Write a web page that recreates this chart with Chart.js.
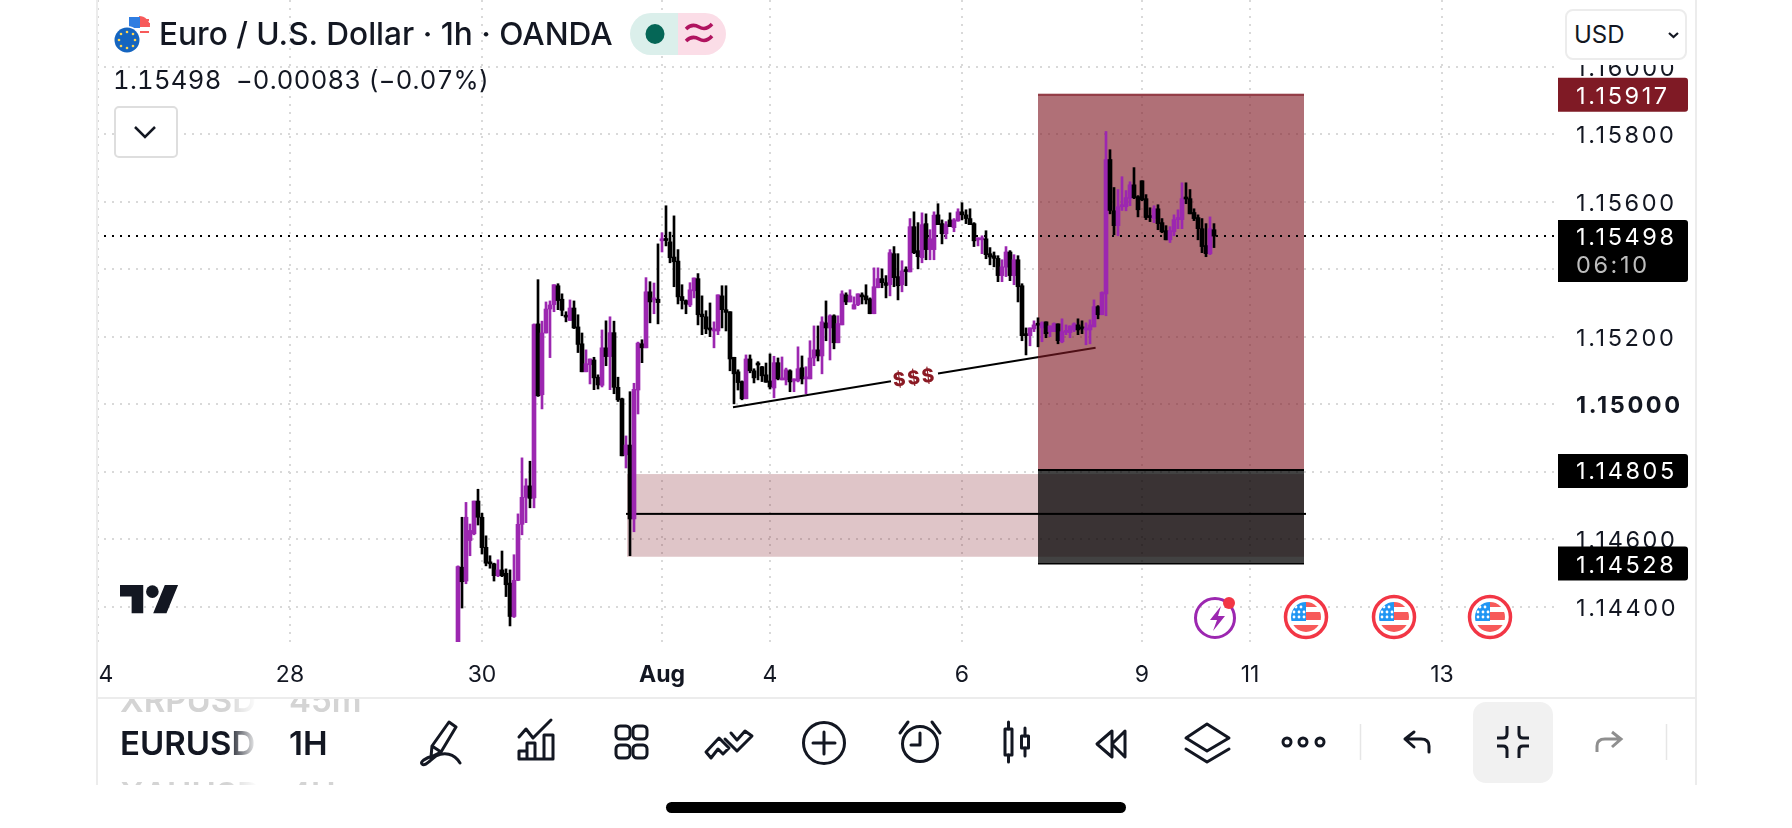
<!DOCTYPE html>
<html>
<head>
<meta charset="utf-8">
<title>EURUSD 1h</title>
<script src="https://cdn.jsdelivr.net/npm/chart.js@4/dist/chart.umd.min.js"></script>
<style>
	html, body { margin: 0; padding: 0; background: #fff; width: 1792px; height: 828px; overflow: hidden; }
	body { font-family: Inter, "Noto Sans", sans-serif; color: #131722; }
	canvas { position: absolute; left: 0; top: 0; }
	svg.overlay { position: absolute; left: 0; top: 0; }
	.txt { position: absolute; white-space: nowrap; }
	#title { left: 159px; top: 15px; font-size: 31.6px; line-height: 38px; font-weight: 500; }
	#quote { left: 113px; top: 65px; font-size: 25.6px; line-height: 30px; font-weight: 400; white-space: pre; font-variant-numeric: tabular-nums; letter-spacing: 0.3px; }
	#dropdown { position: absolute; left: 114px; top: 106px; width: 60px; height: 48px; border: 2px solid #dedede; border-radius: 5px; background: #fff; }
	#axisCover { position: absolute; left: 1558px; top: 0; width: 136px; height: 65px; background: #fff; }
	#currency { position: absolute; left: 1565px; top: 9px; width: 118px; height: 47px; border: 2px solid #ececec; border-radius: 8px; background: #fff; }
	#currency span { position: absolute; left: 7px; top: 9px; font-size: 24px; line-height: 30px; }
	#rows { position: absolute; left: 98px; top: 699px; width: 300px; height: 86px; overflow: hidden; }
	#rows div { position: absolute; white-space: nowrap; font-weight: 600; font-size: 33px; line-height: 38px; }
	.sym { left: 22px; width: 138px; overflow: hidden; -webkit-mask-image: linear-gradient(to right, #000 78%, transparent 100%); mask-image: linear-gradient(to right, #000 78%, transparent 100%); }
	.res { left: 191px; }
	.dim { color: #d4d4d4; }
</style>
</head>
<body>
<canvas id="chart" width="1792" height="828"></canvas>

<div id="axisCover"></div>
<div id="title" class="txt">Euro / U.S. Dollar · 1h · OANDA</div>
<div id="quote" class="txt">1.15498  −0.00083 (−0.07%)</div>
<div id="dropdown"></div>
<div id="currency"><span>USD</span></div>

<div id="rows">
	<div class="sym dim" style="top:-18px">XRPUSD</div><div class="res dim" style="top:-18px">45m</div>
	<div class="sym" style="top:25px">EURUSD</div><div class="res" style="top:25px">1H</div>
	<div class="sym dim" style="top:76px">XAUUSD</div><div class="res dim" style="top:76px">4H</div>
</div>

<svg class="overlay" width="1792" height="828" viewBox="0 0 1792 828">
	<defs>
		<clipPath id="flagClip"><circle cx="0" cy="0" r="15"/></clipPath>
		<g id="usEvent">
			<circle cx="0" cy="0" r="20.5" fill="#fff" stroke="#F23645" stroke-width="3.5"/>
			<g clip-path="url(#flagClip)">
				<rect x="0" y="-15" width="16" height="5" fill="#f75a5a"/>
				<rect x="0" y="-5" width="16" height="8" fill="#f75a5a"/>
				<rect x="-16" y="8" width="32" height="8" fill="#f75a5a"/>
				<rect x="-16" y="-16" width="16" height="20" fill="#2196f3"/>
				<g fill="#fff">
					<circle cx="-10" cy="-10" r="1.4"/><circle cx="-5" cy="-10" r="1.4"/>
					<circle cx="-12" cy="-5" r="1.4"/><circle cx="-7" cy="-5" r="1.4"/><circle cx="-2" cy="-5" r="1.4"/>
					<circle cx="-12" cy="0" r="1.4"/><circle cx="-7" cy="0" r="1.4"/><circle cx="-2" cy="0" r="1.4"/>
				</g>
			</g>
		</g>
	</defs>

	<!-- pane borders -->
	<path d="M97 0V785M1696 0V785" stroke="#ececec" stroke-width="2" fill="none"/>
	<path d="M97 698H1696" stroke="#ececec" stroke-width="2" fill="none"/>

	<!-- symbol logos -->
	<circle cx="139" cy="27" r="11" fill="#fff"/>
	<path d="M139 16a11 11 0 0 1 11 11h-11z" fill="#f75a5a"/>
	<rect x="129" y="17" width="11" height="11" fill="#2f7de1"/>
	<path d="M141 20h8M141 24h9M140 32h9" stroke="#f75a5a" stroke-width="2"/>
	<circle cx="127" cy="40" r="14" fill="#fff"/>
	<circle cx="127" cy="40" r="12.5" fill="#1565C0"/>
	<g fill="#ffd54f">
		<circle cx="127" cy="32" r="1.3"/><circle cx="133" cy="34" r="1.3"/><circle cx="135" cy="40" r="1.3"/><circle cx="133" cy="46" r="1.3"/>
		<circle cx="127" cy="48" r="1.3"/><circle cx="121" cy="46" r="1.3"/><circle cx="119" cy="40" r="1.3"/><circle cx="121" cy="34" r="1.3"/>
	</g>

	<!-- status pill -->
	<path d="M678 13H651a21 21 0 0 0 0 42H678z" fill="#dbefeb"/>
	<path d="M678 13H705a21 21 0 0 1 0 42H678z" fill="#fbdde7"/>
	<ellipse cx="655" cy="34" rx="9.5" ry="10" fill="#056656"/>
	<path d="M686 29q6-6 13-2t13-3M686 41q6-6 13-2t13-3" stroke="#b0135f" stroke-width="3.5" fill="none"/>

	<!-- chevrons -->
	<path d="M135 127l10 10 10-10" stroke="#131722" stroke-width="2.5" fill="none"/>
	<path d="M1669 33l4.500 4 4.500-4" stroke="#131722" stroke-width="2.2" fill="none"/>

	<!-- tradingview mark -->
	<g transform="translate(120,585) scale(1.66)" fill="#131722">
		<path d="M14 17H7V7H0V0h14v17zM28 17h-8L27 0h8l-7 17z"/>
		<circle cx="19.500" cy="4" r="3.800"/>
	</g>

	<!-- events row -->
	<circle cx="1215" cy="618" r="19.500" fill="none" stroke="#9C27B0" stroke-width="3"/>
	<path d="M1221 606l-11 14h7l-4 11 12-15h-7z" fill="#9C27B0"/>
	<circle cx="1229" cy="603" r="6" fill="#F23645"/>
	<use href="#usEvent" x="1306" y="617"/>
	<use href="#usEvent" x="1394" y="617"/>
	<use href="#usEvent" x="1490" y="617"/>

	<!-- bottom toolbar -->
	<g fill="none" stroke="#131722" stroke-width="3" stroke-linejoin="round" stroke-linecap="round">
		<path d="M449 722l7 5-15 25-10 5 1-11zM432 746l9 6M433 756c-8 2-13 6-11 8c3 3 8-4 14-8c8-4 18-3 24 7"/>
		<path d="M519 737l7-8 7 9 18-18M519 759h34v-24h-9v24M535 759v-16h-8v16M527 759v-8h-8v8"/>
		<rect x="616" y="726" width="14" height="13" rx="4"/><rect x="633" y="726" width="14" height="13" rx="4"/>
		<rect x="616" y="745" width="14" height="13" rx="4"/><rect x="633" y="745" width="14" height="13" rx="4"/>
		<path d="M706 752l13-14 10 10-6 6-5-5-7 9zM731 733l6 7 8-9 7 5-15 15-12-12"/>
		<circle cx="824" cy="743" r="20.500"/><path d="M824 732v22M813 743h22"/>
		<circle cx="920" cy="744" r="17.500"/><path d="M920 733v12h-9M900 733l8-11M940 733l-8-11"/>
		<rect x="1005" y="729" width="7" height="26"/><path d="M1008.500 722v7M1008.500 755v7M1025 728v8M1025 748v8"/><rect x="1021.500" y="736" width="7" height="12"/>
		<path d="M1112 731l-15 13 15 13zM1125 731l-13 13 13 13z"/>
		<path d="M1207 724l22 14-22 13-21-13zM1186 749l21 13 22-13"/>
		<circle cx="1287" cy="742" r="4"/><circle cx="1303" cy="742" r="4"/><circle cx="1320" cy="742" r="4"/>
		<path d="M1429 752v-6q0-7-8-7h-16M1414 732l-9 7 9 8"/>
	</g>
	<path d="M1360.500 724v36M1666.500 724v36" stroke="#e6e6e6" stroke-width="1.500"/>
	<rect x="1473" y="702" width="80" height="81" rx="13" fill="#f1f1f1"/>
	<g fill="none" stroke="#131722" stroke-width="3">
		<path d="M1507 726v8q0 4-4 4h-6M1519 726v8q0 4 4 4h6M1497 746h6q4 0 4 4v8M1529 746h-6q-4 0-4 4v8"/>
	</g>
	<path d="M1597 752v-6q0-7 8-7h16M1612 732l9 7-9 8" fill="none" stroke="#8f8f8f" stroke-width="3"/>

	<!-- home indicator -->
	<rect x="666" y="802" width="460" height="11" rx="5.500" fill="#000"/>
</svg>

<script>
//one hourly candle per list entry, oldest first
var opens = [
	1.14262,1.14517,1.14476,1.14596,1.14616,1.14713,1.14665,1.14576,1.14531,1.14527,
	1.14492,1.14509,1.14499,1.14470,1.14371,1.14478,1.14644,1.14724,1.14758,1.14722,
	1.15238,1.15028,1.15211,1.15282,1.15295,1.15351,1.15311,1.15262,1.15248,1.15285,
	1.15229,1.15179,1.15096,1.15117,1.15131,1.15080,1.15056,1.15167,1.15141,1.15212,
	1.15050,1.15016,1.14850,1.14879,1.14660,1.15042,1.15179,1.15167,1.15333,1.15309,
	1.15311,1.15484,1.15489,1.15481,1.15436,1.15424,1.15319,1.15307,1.15294,1.15336,
	1.15372,1.15267,1.15259,1.15226,1.15217,1.15217,1.15321,1.15280,1.15274,1.15139,
	1.15096,1.15067,1.15016,1.15134,1.15099,1.15120,1.15111,1.15087,1.15069,1.15048,
	1.15123,1.15072,1.15072,1.15099,1.15069,1.15069,1.15108,1.15075,1.15075,1.15137,
	1.15161,1.15143,1.15241,1.15226,1.15262,1.15182,1.15235,1.15324,1.15303,1.15282,
	1.15295,1.15324,1.15321,1.15312,1.15268,1.15345,1.15372,1.15360,1.15354,1.15446,
	1.15378,1.15354,1.15398,1.15392,1.15526,1.15455,1.15434,1.15535,1.15458,1.15458,
	1.15561,1.15535,1.15505,1.15546,1.15523,1.15543,1.15570,1.15561,1.15550,1.15535,
	1.15487,1.15487,1.15490,1.15446,1.15440,1.15432,1.15381,1.15406,1.15451,1.15381,
	1.15428,1.15351,1.15209,1.15203,1.15223,1.15238,1.15226,1.15244,1.15215,1.15215,
	1.15238,1.15185,1.15213,1.15212,1.15220,1.15235,1.15229,1.15220,1.15220,1.15229,
	1.15289,1.15265,1.15327,1.15725,1.15573,1.15529,1.15585,1.15585,1.15610,1.15650,
	1.15615,1.15662,1.15609,1.15558,1.15550,1.15579,1.15538,1.15514,1.15487,1.15511,
	1.15547,1.15547,1.15612,1.15609,1.15568,1.15553,1.15520,1.15470,1.15446,1.15517
];
var highs = [
	1.14521,1.14665,1.14709,1.14645,1.14713,1.14748,1.14677,1.14610,1.14551,1.14529,
	1.14539,1.14565,1.14512,1.14509,1.14554,1.14675,1.14841,1.14779,1.14831,1.15238,
	1.15369,1.15246,1.15303,1.15306,1.15354,1.15357,1.15327,1.15274,1.15309,1.15306,
	1.15265,1.15211,1.15161,1.15134,1.15139,1.15087,1.15220,1.15247,1.15259,1.15246,
	1.15080,1.15018,1.14906,1.15037,1.15062,1.15184,1.15191,1.15375,1.15363,1.15359,
	1.15475,1.15508,1.15588,1.15510,1.15558,1.15458,1.15354,1.15309,1.15360,1.15374,
	1.15387,1.15321,1.15277,1.15300,1.15244,1.15324,1.15351,1.15351,1.15274,1.15139,
	1.15102,1.15069,1.15146,1.15146,1.15105,1.15126,1.15112,1.15122,1.15149,1.15142,
	1.15137,1.15140,1.15107,1.15102,1.15075,1.15170,1.15143,1.15111,1.15188,1.15232,
	1.15232,1.15259,1.15306,1.15265,1.15265,1.15262,1.15336,1.15330,1.15339,1.15318,
	1.15327,1.15330,1.15354,1.15315,1.15404,1.15404,1.15401,1.15381,1.15458,1.15467,
	1.15446,1.15425,1.15407,1.15550,1.15570,1.15538,1.15567,1.15564,1.15517,1.15570,
	1.15594,1.15546,1.15541,1.15567,1.15550,1.15579,1.15597,1.15576,1.15579,1.15538,
	1.15493,1.15499,1.15514,1.15464,1.15451,1.15440,1.15428,1.15467,1.15455,1.15443,
	1.15440,1.15357,1.15226,1.15226,1.15247,1.15256,1.15244,1.15244,1.15232,1.15241,
	1.15238,1.15253,1.15235,1.15232,1.15241,1.15253,1.15247,1.15241,1.15250,1.15309,
	1.15292,1.15333,1.15808,1.15754,1.15642,1.15636,1.15674,1.15633,1.15659,1.15701,
	1.15618,1.15662,1.15621,1.15582,1.15588,1.15591,1.15550,1.15529,1.15526,1.15561,
	1.15576,1.15656,1.15656,1.15636,1.15579,1.15561,1.15550,1.15535,1.15555,1.15535
];
var lows = [
	1.14232,1.14396,1.14468,1.14551,1.14613,1.14642,1.14556,1.14521,1.14514,1.14476,
	1.14489,1.14489,1.14430,1.14343,1.14368,1.14477,1.14613,1.14649,1.14693,1.14693,
	1.15023,1.14986,1.15211,1.15138,1.15274,1.15280,1.15262,1.15244,1.15248,1.15224,
	1.15153,1.15096,1.15096,1.15060,1.15043,1.15045,1.15051,1.15114,1.15043,1.15031,
	1.15008,1.14847,1.14811,1.14551,1.14622,1.14971,1.15123,1.15167,1.15241,1.15268,
	1.15238,1.15451,1.15469,1.15419,1.15348,1.15297,1.15282,1.15268,1.15289,1.15315,
	1.15235,1.15206,1.15209,1.15200,1.15167,1.15206,1.15226,1.15217,1.15099,1.15001,
	1.15042,1.15013,1.15016,1.15093,1.15063,1.15072,1.15067,1.15065,1.15045,1.15019,
	1.15072,1.15072,1.15057,1.15037,1.15037,1.15066,1.15060,1.15031,1.15075,1.15114,
	1.15128,1.15090,1.15188,1.15131,1.15164,1.15182,1.15235,1.15295,1.15303,1.15282,
	1.15292,1.15297,1.15297,1.15268,1.15268,1.15345,1.15345,1.15315,1.15321,1.15348,
	1.15309,1.15333,1.15351,1.15392,1.15446,1.15401,1.15419,1.15428,1.15428,1.15428,
	1.15532,1.15475,1.15490,1.15526,1.15511,1.15542,1.15546,1.15535,1.15532,1.15467,
	1.15469,1.15446,1.15431,1.15413,1.15407,1.15363,1.15363,1.15378,1.15366,1.15354,
	1.15303,1.15188,1.15146,1.15173,1.15215,1.15170,1.15185,1.15197,1.15200,1.15215,
	1.15179,1.15182,1.15206,1.15197,1.15215,1.15206,1.15209,1.15176,1.15179,1.15229,
	1.15253,1.15265,1.15262,1.15564,1.15502,1.15499,1.15574,1.15573,1.15588,1.15609,
	1.15555,1.15603,1.15547,1.15541,1.15538,1.15517,1.15508,1.15487,1.15479,1.15499,
	1.15520,1.15520,1.15594,1.15564,1.15544,1.15487,1.15449,1.15437,1.15443,1.15464
];
var closes = [
	1.14519,1.14474,1.14665,1.14626,1.14713,1.14665,1.14575,1.14529,1.14527,1.14492,
	1.14509,1.14492,1.14465,1.14371,1.14478,1.14644,1.14724,1.14758,1.14721,1.15236,
	1.15025,1.15211,1.15282,1.15294,1.15354,1.15307,1.15278,1.15258,1.15285,1.15226,
	1.15177,1.15096,1.15120,1.15134,1.15078,1.15057,1.15167,1.15141,1.15212,1.15050,
	1.15013,1.14847,1.14879,1.14660,1.15044,1.15181,1.15167,1.15333,1.15303,1.15315,
	1.15301,1.15490,1.15485,1.15434,1.15422,1.15318,1.15307,1.15296,1.15339,1.15374,
	1.15265,1.15259,1.15223,1.15220,1.15222,1.15324,1.15280,1.15272,1.15134,1.15090,
	1.15064,1.15016,1.15134,1.15099,1.15078,1.15116,1.15084,1.15065,1.15051,1.15123,
	1.15075,1.15075,1.15102,1.15066,1.15075,1.15105,1.15075,1.15081,1.15137,1.15161,
	1.15143,1.15244,1.15226,1.15262,1.15182,1.15239,1.15327,1.15303,1.15321,1.15295,
	1.15327,1.15318,1.15309,1.15268,1.15348,1.15372,1.15360,1.15352,1.15449,1.15375,
	1.15351,1.15395,1.15393,1.15526,1.15449,1.15437,1.15532,1.15458,1.15490,1.15560,
	1.15532,1.15505,1.15532,1.15526,1.15546,1.15570,1.15561,1.15550,1.15532,1.15484,
	1.15492,1.15493,1.15443,1.15436,1.15432,1.15381,1.15407,1.15451,1.15381,1.15428,
	1.15348,1.15203,1.15203,1.15226,1.15235,1.15234,1.15241,1.15209,1.15232,1.15239,
	1.15188,1.15215,1.15218,1.15232,1.15238,1.15220,1.15223,1.15223,1.15235,1.15289,
	1.15265,1.15331,1.15725,1.15574,1.15529,1.15585,1.15591,1.15612,1.15650,1.15612,
	1.15576,1.15606,1.15553,1.15553,1.15579,1.15535,1.15511,1.15487,1.15514,1.15547,
	1.15553,1.15609,1.15608,1.15564,1.15550,1.15520,1.15467,1.15446,1.15520,1.15498
];

//axis
var yTicks = [1.144, 1.146, 1.148, 1.15, 1.152, 1.154, 1.156, 1.158, 1.16];
var xTickSlots = [0, 2, 48, 96, 141, 168, 216, 261, 288, 336];
var xTickLabels = ["", "4", "28", "30", "Aug", "4", "6", "9", "11", "13"];

//drawings on the chart
var lastPrice = 1.15498;
var stopPrice = 1.15917;
var entryHigh = 1.14805;
var entryLow = 1.14528;
var zonePrices = [1.14793, 1.14548];
var midLinePrice = 1.14675;
var trendSlots = [158.75, 198.25, 210, 249.4];
var trendPrices = [1.14991, 1.15068, 1.15091, 1.15167];

var slotCount = 365;
var firstCandleSlot = 90;
var purple = "#9C27B0";

var categories = [];
for(var s = 0; s < slotCount; s++) categories.push(String(s));

var wickData = [];
var bodyData = [];
var candleColors = [];
for(var i = 0; i < slotCount; i++) {
	var c = i - firstCandleSlot;
	if(c >= 0 && c < opens.length) {
		wickData.push([lows[c], highs[c]]);
		bodyData.push([Math.min(opens[c], closes[c]), Math.max(opens[c], closes[c])]);
		candleColors.push(closes[c] >= opens[c] ? purple : "#000000");
	} else {
		wickData.push(null);
		bodyData.push(null);
		candleColors.push("#000000");
	}
}

function priceTag(ctx, y, x0, x1, top, bottom, color, text, textColor) {
	ctx.fillStyle = color;
	ctx.beginPath();
	ctx.roundRect(x0, top, x1-x0, bottom-top, [0, 3, 3, 0]);
	ctx.fill();
	ctx.fillStyle = textColor;
	ctx.textAlign = "left";
	ctx.textBaseline = "middle";
	ctx.font = "400 23.5px Inter";
	ctx.fillText(text, 1576, y+2);
}

var drawings = {
	id: "drawings",
	beforeDraw: function(chart) {
		chart.ctx.letterSpacing = "0px";
	},
	beforeDatasetsDraw: function(chart) {
		var ctx = chart.ctx;
		var xs = chart.scales.x;
		var ys = chart.scales.y;
		var area = chart.chartArea;
		var boxLeft = xs.getPixelForValue(235);
		var boxRight = xs.getPixelForValue(301.5);
		ctx.save();
		ctx.beginPath();
		ctx.rect(area.left, area.top, area.right-area.left, area.bottom-area.top);
		ctx.clip();

		//rising line with the gap for its text
		ctx.strokeStyle = "#000";
		ctx.lineWidth = 2;
		ctx.beginPath();
		ctx.moveTo(xs.getPixelForValue(trendSlots[0]), ys.getPixelForValue(trendPrices[0]));
		ctx.lineTo(xs.getPixelForValue(trendSlots[1]), ys.getPixelForValue(trendPrices[1]));
		ctx.moveTo(xs.getPixelForValue(trendSlots[2]), ys.getPixelForValue(trendPrices[2]));
		ctx.lineTo(xs.getPixelForValue(trendSlots[3]), ys.getPixelForValue(trendPrices[3]));
		ctx.stroke();

		//target box
		var stopY = ys.getPixelForValue(stopPrice);
		var highY = ys.getPixelForValue(entryHigh);
		var lowY = ys.getPixelForValue(entryLow);
		ctx.fillStyle = "rgba(128,25,36,0.62)";
		ctx.fillRect(boxLeft, stopY, boxRight-boxLeft, highY-stopY);
		ctx.fillStyle = "rgba(128,25,36,0.8)";
		ctx.fillRect(boxLeft, stopY-1, boxRight-boxLeft, 2);

		//pale zone
		var zoneLeft = xs.getPixelForValue(132.25);
		var zoneTop = ys.getPixelForValue(zonePrices[0]);
		var zoneBottom = ys.getPixelForValue(zonePrices[1]);
		ctx.fillStyle = "rgba(128,25,36,0.25)";
		ctx.fillRect(zoneLeft, zoneTop, boxRight-zoneLeft, zoneBottom-zoneTop);

		//dark box
		ctx.fillStyle = "rgba(0,0,0,0.74)";
		ctx.fillRect(boxLeft, highY, boxRight-boxLeft, lowY-highY);
		ctx.fillStyle = "#000";
		ctx.fillRect(boxLeft, highY-1, boxRight-boxLeft, 2);
		ctx.fillRect(boxLeft, lowY-0.5, boxRight-boxLeft, 1.5);

		//mid line
		var midY = ys.getPixelForValue(midLinePrice);
		ctx.fillRect(xs.getPixelForValue(132), midY-1, xs.getPixelForValue(302)-xs.getPixelForValue(132), 2);

		//last price dots
		ctx.strokeStyle = "#000";
		ctx.setLineDash([2, 6]);
		ctx.lineWidth = 2;
		ctx.beginPath();
		ctx.moveTo(area.left, ys.getPixelForValue(lastPrice));
		ctx.lineTo(area.right, ys.getPixelForValue(lastPrice));
		ctx.stroke();
		ctx.setLineDash([]);

		//$$$ sits in the gap of the line
		ctx.translate((xs.getPixelForValue(trendSlots[1])+xs.getPixelForValue(trendSlots[2]))/2,
			(ys.getPixelForValue(trendPrices[1])+ys.getPixelForValue(trendPrices[2]))/2);
		ctx.rotate(-0.13);
		ctx.fillStyle = "#8B1A24";
		ctx.font = "800 19px Inter";
		ctx.letterSpacing = "2px";
		ctx.textAlign = "center";
		ctx.textBaseline = "middle";
		ctx.fillText("$$$", 0, 1);
		ctx.restore();
	},
	afterDatasetsDraw: function(chart) {
		//price axis labels come after this, they are spaced wider than the Inter digits
		chart.ctx.letterSpacing = "2.6px";
	},
	afterDraw: function(chart) {
		var ctx = chart.ctx;
		var ys = chart.scales.y;
		ctx.save();
		var y = ys.getPixelForValue(stopPrice);
		priceTag(ctx, y, 1558, 1688, y-17, y+17, "#7F1A25", stopPrice.toFixed(5), "#fff");
		y = ys.getPixelForValue(entryHigh);
		priceTag(ctx, y, 1558, 1688, y-16, y+18, "#000", entryHigh.toFixed(5), "#fff");
		y = ys.getPixelForValue(entryLow);
		priceTag(ctx, y, 1558, 1688, y-17, y+17, "#000", entryLow.toFixed(5), "#fff");
		y = ys.getPixelForValue(lastPrice);
		priceTag(ctx, y, 1558, 1688, y-16, y+46, "#000", lastPrice.toFixed(5), "#fff");
		ctx.fillStyle = "#bdbdbd";
		ctx.fillText("06:10", 1576, y+30);
		ctx.restore();
	}
};

new Chart(document.getElementById("chart").getContext("2d"), {
	type: "bar",
	data: {
		labels: categories,
		datasets: [
			{ label: "wick", data: wickData, backgroundColor: candleColors, barThickness: 2, grouped: false, order: 2 },
			{ label: "body", data: bodyData, backgroundColor: candleColors, barThickness: 4, grouped: false, minBarLength: 2, order: 1 }
		]
	},
	options: {
		responsive: false,
		animation: false,
		events: [],
		layout: { autoPadding: false, padding: { left: 96, right: 104, top: 0, bottom: 130 } },
		plugins: { legend: { display: false }, tooltip: { enabled: false } },
		scales: {
			x: {
				type: "category",
				offset: true,
				afterFit: function(scale) { scale.height = 56; scale.paddingLeft = 0; scale.paddingRight = 0; },
				afterBuildTicks: function(scale) {
					scale.ticks = xTickSlots.map(function(slot) { return { value: slot }; });
				},
				grid: {
					offset: false,
					drawTicks: false,
					lineWidth: 2,
					color: function(ctx) { return ctx.tick && ctx.tick.value === 2 ? "rgba(0,0,0,0)" : "#d9d9d9"; }
				},
				border: { display: false, dash: [2, 6] },
				ticks: {
					autoSkip: false,
					maxRotation: 0,
					padding: 19,
					color: "#131722",
					font: function(ctx) {
						var bold = ctx.tick && xTickLabels[xTickSlots.indexOf(ctx.tick.value)] === "Aug";
						return { family: "Inter", size: 23, weight: bold ? "700" : "400" };
					},
					callback: function(value) { return xTickLabels[xTickSlots.indexOf(value)]; }
				}
			},
			y: {
				position: "right",
				min: 1.142954,
				max: 1.161976,
				afterFit: function(scale) { scale.width = 132; scale.paddingTop = 0; scale.paddingBottom = 0; },
				afterBuildTicks: function(scale) {
					scale.ticks = yTicks.map(function(v) { return { value: v }; });
				},
				grid: { drawTicks: false, lineWidth: 2, color: "#d9d9d9" },
				border: { display: false, dash: [2, 6] },
				ticks: {
					autoSkip: false,
					padding: 20,
					labelOffset: 2,
					z: 1,
					color: "#131722",
					font: function(ctx) {
						var bold = ctx.tick && Math.abs(ctx.tick.value - 1.15) < 0.0001;
						return { family: "Inter", size: 23.5, weight: bold ? "700" : "400" };
					},
					callback: function(value) { return value.toFixed(5); }
				}
			}
		}
	},
	plugins: [drawings]
});
</script>
</body>
</html>
